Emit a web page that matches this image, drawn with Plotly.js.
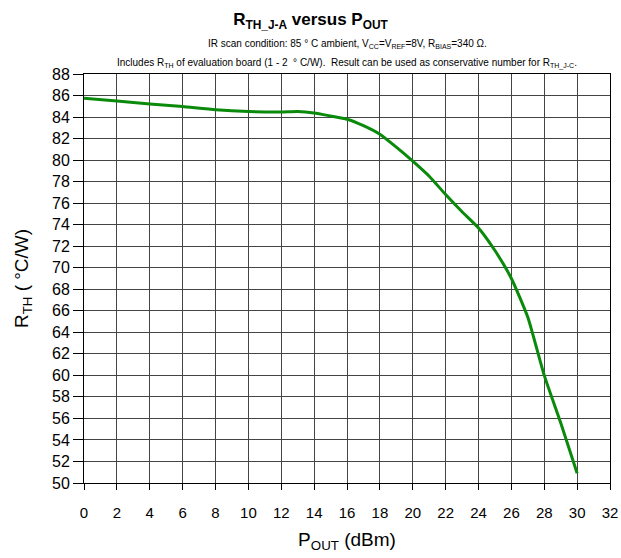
<!DOCTYPE html>
<html>
<head>
<meta charset="utf-8">
<script src="https://cdn.plot.ly/plotly-3.0.1.min.js"></script>
<style>html,body{margin:0;padding:0;background:#fff;}#chart{width:621px;height:558px;}</style>
</head>
<body>
<div id="chart"></div>
<script>
const pout = [0, 2, 4, 6, 8, 10, 12, 13, 14, 15, 16, 17, 18, 19, 20, 21, 22, 23, 24, 25, 26, 27, 28, 29, 30];
const rth  = [85.75, 85.5, 85.22, 84.97, 84.68, 84.52, 84.48, 84.52, 84.38, 84.1, 83.8, 83.2, 82.4, 81.2, 79.9, 78.5, 76.8, 75.2, 73.7, 71.6, 69.0, 65.4, 60.0, 55.6, 50.9];
const xTicks = [0,2,4,6,8,10,12,14,16,18,20,22,24,26,28,30,32];
const yTicks = [50,52,54,56,58,60,62,64,66,68,70,72,74,76,78,80,82,84,86,88];

const font = "Liberation Sans, Arial, sans-serif";
const trace = {
  x: pout, y: rth, type: 'scatter', mode: 'lines',
  line: {color: '#0a8a0a', width: 3, shape: 'spline', smoothing: 0.5},
  hoverinfo: 'skip'
};
const layout = {
  width: 621, height: 558,
  margin: {l: 84, r: 11, t: 74, b: 75},
  paper_bgcolor: '#fff', plot_bgcolor: '#fff',
  showlegend: false,
  font: {family: font, color: '#000'},
  title: {text: '<b>R<sub>TH_J-A</sub> versus P<sub>OUT</sub></b>', font: {size: 17, family: font}, x: 0.5, xanchor: 'center', y: 0.965, yanchor: 'middle'},
  xaxis: {
    range: [0, 32], tickvals: xTicks, ticktext: xTicks.map(String),
    showgrid: true, gridcolor: '#444', gridwidth: 1,
    showline: true, linecolor: '#000', linewidth: 1, mirror: true,
    ticks: 'outside', ticklen: 6, tickcolor: '#000', ticklabelstandoff: 10,
    tickfont: {size: 15, family: font}, zeroline: false,
    title: {text: 'P<sub>OUT</sub> (dBm)', font: {size: 19, family: font}, standoff: 12}
  },
  yaxis: {
    range: [50, 88], tickvals: yTicks, ticktext: yTicks.map(String),
    showgrid: true, gridcolor: '#444', gridwidth: 1,
    showline: true, linecolor: '#000', linewidth: 1, mirror: true,
    ticks: 'outside', ticklen: 10, tickcolor: '#000',
    tickfont: {size: 16, family: font}, zeroline: false,
    title: {text: 'R<sub>TH</sub> ( °C/W)', font: {size: 19, family: font}, standoff: 18}
  },
  annotations: [
    {xref: 'paper', yref: 'paper', x: 0.5, y: 1, yshift: 30, xanchor: 'center', yanchor: 'middle', showarrow: false,
     text: 'IR scan condition: 85 ° C ambient, V<sub>CC</sub>=V<sub>REF</sub>=8V, R<sub>BIAS</sub>=340 Ω.', font: {size: 10, family: font}},
    {xref: 'paper', yref: 'paper', x: 0.5, y: 1, yshift: 11, xanchor: 'center', yanchor: 'middle', showarrow: false,
     text: 'Includes R<sub>TH</sub> of evaluation board (1 - 2  ° C/W).  Result can be used as conservative number for R<sub>TH_J-C</sub>.', font: {size: 10, family: font}}
  ]
};
Plotly.newPlot('chart', [trace], layout, {displayModeBar: false, staticPlot: true});
</script>
</body>
</html>
